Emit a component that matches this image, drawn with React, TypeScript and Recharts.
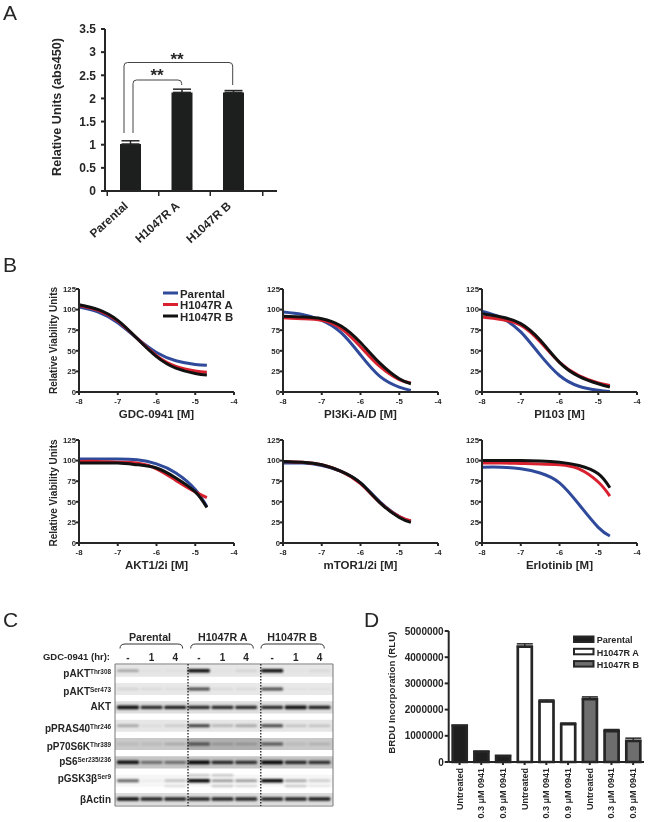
import {
  BarChart, Bar, Cell, ErrorBar, LineChart, Line, ScatterChart, Scatter,
  XAxis, YAxis, ReferenceArea, ReferenceLine,
} from "recharts";

const FONT = '"Liberation Sans", Arial, sans-serif';
const INK = "#262626";

// panel A
const cellLines = ["Parental", "H1047R A", "H1047R B"];
const absValues = [1.015, 2.13, 2.13];
const absErrors = [0.07, 0.07, 0.04];
const absTicks = [0, 0.5, 1, 1.5, 2, 2.5, 3, 3.5];

// panel B
const doses = [-8, -7.5, -7, -6.5, -6, -5.5, -5, -4.7];
const doseTicks = [-8, -7, -6, -5, -4];
const viabilityTicks = [0, 25, 50, 75, 100, 125];
const lineColors = ["#2f4a9b", "#d8202f", "#111111"];

const gdcP = [103, 97, 84, 65, 48, 38, 33.5, 32.5];
const gdcA = [105, 99, 86, 65, 44, 31, 25.5, 24];
const gdcB = [106, 100, 87, 65, 43, 29, 22.5, 20.5];

const pi3kP = [97, 94, 87, 72, 45, 19, 6, 2];
const pi3kA = [90, 89, 87, 77, 55, 31, 15, 11];
const pi3kB = [92, 91, 89, 80, 60, 35, 16, 10];

const pi103P = [98, 90, 73, 45, 20, 7, 2, 0.5];
const pi103A = [91, 88, 81, 61, 36, 20, 11, 8];
const pi103B = [95, 91, 83, 63, 36, 19, 10, 6];

const aktP = [102, 102, 102, 101, 96, 85, 65, 44];
const aktA = [99, 99, 98, 97, 90, 76, 62, 55];
const aktB = [97, 97, 97, 95, 91, 79, 62, 43];

const mtorP = [97, 97, 94, 87, 73, 50, 32, 26];
const mtorA = [99, 98, 95, 87, 72, 49, 32, 27];
const mtorB = [99, 98, 95, 87, 73, 49, 31, 25];

const erlP = [92, 92, 90, 85, 73, 47, 19, 8.5];
const erlA = [97, 97, 96.5, 96, 95, 90, 74, 57];
const erlB = [100, 100, 100, 99.5, 98, 94, 84, 67];

// panel C
const blotRows = ["pAKT", "pAKT", "AKT", "pPRAS40", "pP70S6K", "pS6", "pGSK3β", "βActin"];
const blotSups = ["Thr308", "Ser473", "", "Thr246", "Thr389", "Ser235/236", "Ser9", ""];
const laneLabels = ["-", "1", "4", "-", "1", "4", "-", "1", "4"];
const lanePos = [0, 1, 2, 3, 4, 5, 6.1, 7.1, 8.1];
const rowIdx = [0, 1, 2, 3, 4, 5, 6, 7];
const stripColors = ["#e6e6e6", "#e8e8e8", "#dedede", "#e6e6e6", "#c9c9c9", "#c6c6c6", "#f6f6f6", "#dcdcdc"];
const bandLevels = [
  [0.3, 0.03, 0.04, 0.95, 0.02, 0.1, 0.95, 0.02, 0.07],
  [0.1, 0.07, 0.05, 0.7, 0.07, 0.07, 0.7, 0.04, 0.04],
  [0.95, 0.85, 0.9, 0.85, 0.85, 0.85, 0.85, 0.95, 0.9],
  [0.3, 0.05, 0.15, 0.75, 0.25, 0.3, 0.7, 0.2, 0.2],
  [0.1, 0.1, 0.2, 0.6, 0.2, 0.2, 0.6, 0.1, 0.15],
  [0.95, 0.5, 0.5, 1, 0.85, 0.8, 1, 0.85, 0.8],
  [0.6, 0.05, 0.25, 1, 0.4, 0.4, 1, 0.35, 0.2],
  [0.95, 0.85, 0.85, 0.85, 0.85, 0.85, 0.85, 0.85, 0.9],
];
const extraBandLanes = [3, 4, 2, 4, 5, 7, 8];
const extraBandRows = [5.7, 5.7, 6.3, 6.3, 6.3, 6.3, 6.3];
const extraBandLevels = [0.22, 0.22, 0.12, 0.2, 0.15, 0.2, 0.08];
const rowLabelShift = [3, 3, 0, 3, 3, 0, -2, 1];

// panel D
const brduLabels = [
  "Untreated", "0.3 μM 0941", "0.9 μM 0941",
  "Untreated", "0.3 μM 0941", "0.9 μM 0941",
  "Untreated", "0.3 μM 0941", "0.9 μM 0941",
];
const brduValues = [1390000, 390000, 230000, 4400000, 2310000, 1440000, 2400000, 1180000, 810000];
const brduErrors = [0, 25000, 0, 110000, 60000, 50000, 85000, 60000, 100000];
const brduTicks = [0, 1000000, 2000000, 3000000, 4000000, 5000000];
const brduFills = ["#1e1e1e", "#1e1e1e", "#1e1e1e", "#ffffff", "#ffffff", "#ffffff", "#6e6e6e", "#6e6e6e", "#6e6e6e"];
const legendFills = ["#1e1e1e", "#ffffff", "#6e6e6e"];

const absData = cellLines.map((name, i) => ({ name, value: absValues[i], err: [0, absErrors[i]] }));
const brduData = brduLabels.map((name, i) => ({ id: i, name, value: brduValues[i], err: [0, brduErrors[i]] }));

function AbsTick({ x, y, payload, index }: any) {
  return (
    <g>
      <line x1={x - 23.5} x2={x - 23.5} y1={y - 1} y2={y + 3} stroke={INK} strokeWidth={1.5} />
      {index === 2 && <line x1={x + 29} x2={x + 29} y1={y - 1} y2={y + 3} stroke={INK} strokeWidth={1.5} />}
      <text x={x - 2} y={y + 14} textAnchor="end" fontSize={11.8} fontWeight={700} fill={INK} transform={`rotate(-42 ${x - 2} ${y + 14})`}>
        {payload.value}
      </text>
    </g>
  );
}

function AbsChart() {
  return (
    <div style={{ position: "absolute", left: 40, top: 14 }}>
      <BarChart width={245} height={235} data={absData} margin={{ top: 15, right: 8, left: 0, bottom: 0 }}>
        <XAxis dataKey="name" height={58} tick={AbsTick} tickLine={false} tickSize={0} padding={{ left: 0, right: 17.5 }} stroke={INK} strokeWidth={2} interval={0} />
        <YAxis width={65} domain={[0, 3.5]} ticks={absTicks} interval={0} stroke={INK} strokeWidth={2} tickSize={4} tickMargin={5}
          tick={{ fontSize: 12, fontWeight: 700, fill: INK }} />
        <Bar dataKey="value" barSize={21} fill="#1d1f1e" isAnimationActive={false}>
          <ErrorBar dataKey="err" width={9} strokeWidth={1.5} stroke={INK} direction="y" isAnimationActive={false} />
        </Bar>
      </BarChart>
    </div>
  );
}

function DoseChart({ left, top, title, series }: any) {
  const data = doses.map((x, i) => ({ x, p: series[0][i], a: series[1][i], b: series[2][i] }));
  return (
    <div style={{ position: "absolute", left: left - 30, top: top - 6 }}>
      <LineChart width={195} height={139} data={data} margin={{ top: 6, right: 10, left: 0, bottom: 0 }}>
        <XAxis dataKey="x" type="number" domain={[-8, -4]} ticks={doseTicks} interval={0} height={30} stroke={INK} strokeWidth={2} tickSize={3} tickMargin={3}
          tick={{ fontSize: 7.8, fontWeight: 700, fill: INK }}
          label={{ value: title, position: "insideBottom", offset: 4, style: { fontSize: 11.5, fontWeight: 700, fill: INK } }} />
        <YAxis width={30} domain={[0, 125]} ticks={viabilityTicks} interval={0} stroke={INK} strokeWidth={2} tickSize={3} tickMargin={0}
          tick={{ fontSize: 7.8, fontWeight: 700, fill: INK }} />
        <Line dataKey="p" type="natural" stroke={lineColors[0]} strokeWidth={3} dot={false} isAnimationActive={false} />
        <Line dataKey="a" type="natural" stroke={lineColors[1]} strokeWidth={3} dot={false} isAnimationActive={false} />
        <Line dataKey="b" type="natural" stroke={lineColors[2]} strokeWidth={3} dot={false} isAnimationActive={false} />
      </LineChart>
    </div>
  );
}

function RowTick({ x, y, index }: any) {
  const ty = y + 3 + rowLabelShift[index];
  return (
    <text x={x} y={ty} textAnchor="end" fontSize={10} fontWeight={700} fill={INK}>
      <tspan>{blotRows[index]}</tspan>
      {blotSups[index] && <tspan dy={-3} fontSize={6.4}>{blotSups[index]}</tspan>}
    </text>
  );
}

function Band(props: any) {
  const { cx, cy, payload } = props;
  const h = 1.8 + 1.8 * payload.level;
  return (
    <rect x={cx - 11} y={cy - h / 2} width={22} height={h} rx={1.2} fill="#000"
      opacity={payload.level} style={{ filter: "blur(0.9px)" }} />
  );
}

function BlotChart() {
  const bands = rowIdx.flatMap((r) => lanePos.map((l, i) => ({ x: l, y: r, level: bandLevels[r][i] })));
  const extra = extraBandLanes.map((l, i) => ({ x: lanePos[l], y: extraBandRows[i], level: extraBandLevels[i] }));
  return (
    <div style={{ position: "absolute", left: 20, top: 648 }}>
      <ScatterChart width={315} height={160} margin={{ top: 0, right: 2, left: 0, bottom: 2 }}>
        <XAxis dataKey="x" type="number" orientation="top" domain={[-0.55, 8.675]} ticks={lanePos} interval={0} height={16}
          axisLine={false} tickLine={false} tickSize={0} tickMargin={3} tickFormatter={(_v: number, i: number) => laneLabels[i]}
          tick={{ fontSize: 10, fontWeight: 700, fill: INK }} />
        <YAxis dataKey="y" type="number" reversed domain={[-0.366, 7.38]} ticks={rowIdx} interval={0} width={95}
          axisLine={false} tickLine={false} tickSize={0} tickMargin={4} tick={RowTick} />
        {rowIdx.map((r) => (
          <ReferenceArea key={r} x1={-0.55} x2={8.675} y1={r - 0.33} y2={r + 0.33} fill={stripColors[r]} fillOpacity={1} stroke="none" />
        ))}
        <ReferenceArea x1={2.5} x2={5.6} y1={3.67} y2={4.33} fill="#9f9f9f" fillOpacity={0.6} stroke="none" />
        <Scatter data={bands} shape={Band} isAnimationActive={false} />
        <Scatter data={extra} shape={Band} isAnimationActive={false} />
        <ReferenceLine x={2.54} stroke="#111" strokeWidth={1.2} strokeDasharray="1.5 1.5" />
        <ReferenceLine x={5.62} stroke="#111" strokeWidth={1.2} strokeDasharray="1.5 1.5" />
        <ReferenceArea x1={-0.55} x2={8.675} y1={-0.366} y2={7.38} fill="none" stroke="#777" strokeWidth={1} />
      </ScatterChart>
    </div>
  );
}

function BrduTick({ x, y, payload }: any) {
  return (
    <text x={x + 3} y={y + 1} textAnchor="end" fontSize={9} fontWeight={700} fill={INK} transform={`rotate(-90 ${x + 3} ${y + 1})`}>
      {brduLabels[payload.value]}
    </text>
  );
}

function BrduChart() {
  return (
    <div style={{ position: "absolute", left: 380, top: 625 }}>
      <BarChart width={269} height={197} data={brduData} margin={{ top: 6, right: 5, left: 0, bottom: 0 }} barCategoryGap={0}>
        <XAxis dataKey="id" height={60} interval={0} stroke={INK} strokeWidth={2} tickSize={3} tickMargin={2} tick={BrduTick} />
        <YAxis width={68.7} domain={[0, 5000000]} ticks={brduTicks} interval={0} stroke={INK} strokeWidth={2} tickSize={4} tickMargin={1}
          tick={{ fontSize: 10, fontWeight: 700, fill: INK }} />
        <Bar dataKey="value" barSize={14} stroke={INK} strokeWidth={2.7} isAnimationActive={false}>
          {brduData.map((d, i) => <Cell key={d.id} fill={brduFills[i]} />)}
          <ErrorBar dataKey="err" width={8} strokeWidth={1.5} stroke={INK} direction="y" isAnimationActive={false} />
        </Bar>
      </BarChart>
    </div>
  );
}

function AxisTitle({ x, y, size, children }: any) {
  return (
    <text x={x} y={y} fontSize={size} fontWeight={700} fill={INK} textAnchor="middle" dominantBaseline="middle" transform={`rotate(-90 ${x} ${y})`}>
      {children}
    </text>
  );
}

function Overlay() {
  const boldText = { fontWeight: 700, fill: INK };
  return (
    <svg width={649} height={822} style={{ position: "absolute", left: 0, top: 0, pointerEvents: "none" }}>
      {/* panel letters */}
      <text x={3} y={20} fontSize={21} fill={INK}>A</text>
      <text x={3} y={272} fontSize={21} fill={INK}>B</text>
      <text x={3} y={627} fontSize={21} fill={INK}>C</text>
      <text x={364} y={627} fontSize={21} fill={INK}>D</text>

      {/* axis titles that sit away from the plot centre */}
      <AxisTitle x={58} y={107} size={12.6}>Relative Units (abs450)</AxisTitle>
      <AxisTitle x={54} y={340.5} size={10}>Relative Viability Units</AxisTitle>
      <AxisTitle x={54} y={493} size={10}>Relative Viability Units</AxisTitle>
      <AxisTitle x={392} y={692.7} size={9.7}>BRDU Incorporation (RLU)</AxisTitle>

      {/* significance brackets */}
      <path d="M124 133 V66 Q124 62.5 127.5 62.5 H229 Q232.7 62.5 232.7 66 V85" fill="none" stroke="#444" strokeWidth={1} />
      <path d="M133 133 V83.5 Q133 80 136.5 80 H178 Q181.7 80 181.7 83.5 V85" fill="none" stroke="#444" strokeWidth={1} />
      <text x={177} y={65} fontSize={17} textAnchor="middle" {...boldText}>**</text>
      <text x={157} y={81} fontSize={17} textAnchor="middle" {...boldText}>**</text>

      {/* panel B legend */}
      {cellLines.map((name, i) => (
        <g key={name}>
          <line x1={163} x2={178} y1={293 + i * 11.5} y2={293 + i * 11.5} stroke={lineColors[i]} strokeWidth={3} />
          <text x={180} y={297.5 + i * 11.5} fontSize={11.4} {...boldText}>{name}</text>
        </g>
      ))}

      {/* panel C headers */}
      <text x={110} y={660} fontSize={9.5} textAnchor="end" {...boldText}>GDC-0941 (hr):</text>
      {cellLines.map((name, i) => (
        <text key={name} x={[150, 222.7, 292.3][i]} y={640.5} fontSize={10.7} textAnchor="middle" {...boldText}>{name}</text>
      ))}
      <path d="M120 648.5 Q120 644 125 644 H177.7 Q182.7 644 182.7 648.5" fill="none" stroke="#333" strokeWidth={1} />
      <path d="M190.7 648.5 Q190.7 644 195.7 644 H248.3 Q253.3 644 253.3 648.5" fill="none" stroke="#333" strokeWidth={1} />
      <path d="M261 648.5 Q261 644 266 644 H319.3 Q324.3 644 324.3 648.5" fill="none" stroke="#333" strokeWidth={1} />

      {/* panel D legend */}
      {cellLines.map((name, i) => (
        <g key={name}>
          <rect x={574} y={636.5 + i * 12.3} width={19.5} height={5.5} fill={legendFills[i]} stroke={INK} strokeWidth={2} />
          <text x={596.7} y={643.3 + i * 12.5} fontSize={9.1} {...boldText}>{name}</text>
        </g>
      ))}
    </svg>
  );
}

export default function App() {
  return (
    <div style={{ position: "absolute", left: 0, top: 0, width: 649, height: 822, background: "#fff", fontFamily: FONT, overflow: "hidden", filter: "blur(0.3px)" }}>
      <AbsChart />
      <DoseChart left={79} top={288.7} title="GDC-0941 [M]" series={[gdcP, gdcA, gdcB]} />
      <DoseChart left={282.7} top={288.7} title="PI3Ki-A/D [M]" series={[pi3kP, pi3kA, pi3kB]} />
      <DoseChart left={481.7} top={288.7} title="PI103 [M]" series={[pi103P, pi103A, pi103B]} />
      <DoseChart left={79} top={440} title="AKT1/2i [M]" series={[aktP, aktA, aktB]} />
      <DoseChart left={282.7} top={440} title="mTOR1/2i [M]" series={[mtorP, mtorA, mtorB]} />
      <DoseChart left={481.7} top={440} title="Erlotinib [M]" series={[erlP, erlA, erlB]} />
      <BlotChart />
      <BrduChart />
      <Overlay />
    </div>
  );
}
